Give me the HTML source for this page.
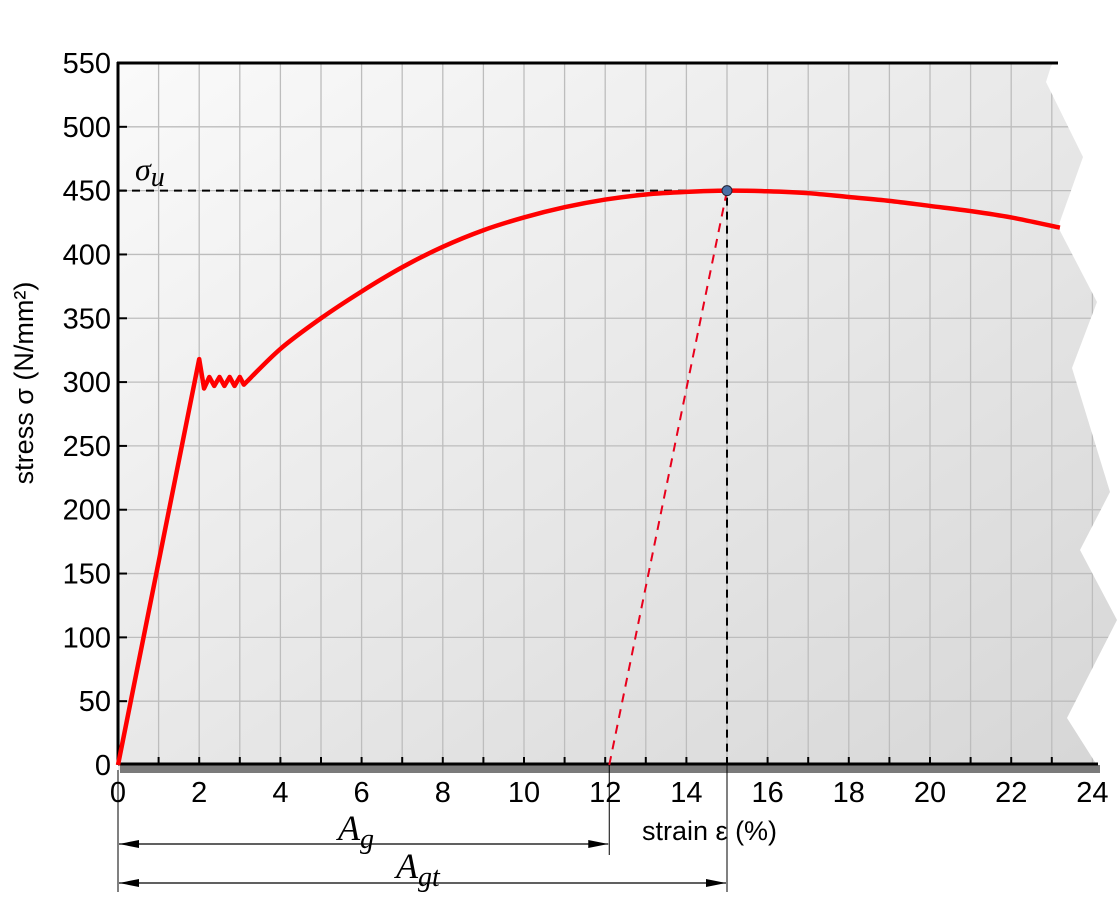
<!DOCTYPE html>
<html><head><meta charset="utf-8"><style>
html,body{margin:0;padding:0;background:#fff}
svg{display:block}
text{font-family:"Liberation Sans",sans-serif}
text.ser{font-family:"Liberation Serif",serif;font-style:italic}
</style></head><body>
<svg id="chart" width="1118" height="900">
<defs>
<linearGradient id="bg" x1="0" y1="0" x2="1" y2="1">
<stop offset="0" stop-color="#fafafa"/><stop offset="1" stop-color="#d6d6d6"/>
</linearGradient>
</defs>
<g id="plot"></g>
</svg>
<script>
const xTicks=[0,2,4,6,8,10,12,14,16,18,20,22,24];
const yTicks=[0,50,100,150,200,250,300,350,400,450,500,550];
const elasticStrain=[0,2,2.12,2.25,2.37,2.5,2.62,2.75,2.87,3.0,3.1];
const elasticStress=[0,318,295,304,297,304,297,304,297,304,298];
const hardStrain=[3.1,4,5,6,7,8,9,10,11,12,13,14,15,16,17,18,19,20,21,22,23.2];
const hardStress=[298,326,350,371,390,406,419,429,437,443,447,449,450,449.5,448,445,442,438,434,429,421];
const uts=[15,450];
const offsetStart=12.1;
const NS='http://www.w3.org/2000/svg';
const X=v=>118+v*40.6, Y=v=>765-v*702/550;
const g=document.getElementById('plot');
function el(t,a,p){const e=document.createElementNS(NS,t);for(const k in a)e.setAttribute(k,a[k]);(p||g).appendChild(e);return e;}
const bgp=el('path',{d:'M118,63 L1052,63 L1046,82 L1083,157 L1058,227 L1097,302 L1072,368 L1110,492 L1080,550 L1117,620 L1067,718 L1100,770 L118,770 Z',fill:'url(#bg)'});

const cp=el('clipPath',{id:'cp'});el('path',{d:bgp.getAttribute('d')},cp);
const grid=el('g',{'clip-path':'url(#cp)',stroke:'#bdbdbd','stroke-width':1.3});

for(let i=1;i<=24;i++)el('line',{x1:X(i),x2:X(i),y1:63,y2:765},grid);
yTicks.forEach(v=>{if(v>0)el('line',{x1:118,x2:1120,y1:Y(v),y2:Y(v)},grid);});
let a=el('rect',{x:120,y:765,width:980,height:8,fill:'#7a7a7a'});
a=el('line',{x1:118,x2:1098,y1:764,y2:764,stroke:'#000','stroke-width':3});
a=el('line',{x1:118,x2:118,y1:62,y2:765,stroke:'#000','stroke-width':3});
a=el('line',{x1:117,x2:1058,y1:63,y2:63,stroke:'#000','stroke-width':3});
for(let i=1;i<24;i++)el('line',{x1:X(i),x2:X(i),y1:757,y2:764,stroke:'#000','stroke-width':2});
xTicks.forEach(v=>{const t=el('text',{x:X(v),y:802,'font-size':29,'text-anchor':'middle'});t.textContent=v;
});
yTicks.forEach(v=>{if(v>0)el('line',{x1:118,x2:127,y1:Y(v),y2:Y(v),stroke:'#000','stroke-width':2});
const t=el('text',{x:111,y:Y(v)+10,'font-size':29,'text-anchor':'end'});t.textContent=v;
});
a=el('polyline',{points:`118,${Y(uts[1])} ${X(uts[0])},${Y(uts[1])} ${X(uts[0])},765`,fill:'none',stroke:'#000','stroke-width':2,'stroke-dasharray':'8,6'});

a=el('line',{x1:X(offsetStart),y1:Y(0),x2:X(uts[0]),y2:Y(uts[1]),stroke:'#e8001c','stroke-width':2,'stroke-dasharray':'9,7'});

const hp=hardStrain.map((s,i)=>[X(s),Y(hardStress[i])]);
let d='M'+elasticStrain.map((s,i)=>X(s)+','+Y(elasticStress[i])).join(' L');
for(let i=0;i<hp.length-1;i++){const p0=hp[Math.max(0,i-1)],p1=hp[i],p2=hp[i+1],p3=hp[Math.min(hp.length-1,i+2)];
d+=` C${p1[0]+(p2[0]-p0[0])/6},${p1[1]+(p2[1]-p0[1])/6} ${p2[0]-(p3[0]-p1[0])/6},${p2[1]-(p3[1]-p1[1])/6} ${p2[0]},${p2[1]}`;}
a=el('path',{d:d,fill:'none',stroke:'#ff0000','stroke-width':4.5,'stroke-linejoin':'round'});

a=el('circle',{cx:X(uts[0]),cy:Y(uts[1]),r:5,fill:'#4a6fa5',stroke:'#223','stroke-width':1});

a=el('text',{x:135,y:180,'font-size':32,class:'ser'});a.textContent='σ';
el('tspan',{'font-size':28,dy:6},a).textContent='u';
a=el('text',{x:33,y:383,'font-size':27,'text-anchor':'middle',transform:'rotate(-90 33 383)'});a.textContent='stress σ (N/mm²)';

a=el('text',{x:642,y:840,'font-size':27});a.textContent='strain ε (%)';
el('line',{x1:118,x2:118,y1:770,y2:892,stroke:'#000','stroke-width':1});
el('line',{x1:X(offsetStart),x2:X(offsetStart),y1:765,y2:855,stroke:'#000','stroke-width':1});
el('line',{x1:X(uts[0]),x2:X(uts[0]),y1:765,y2:892,stroke:'#000','stroke-width':1});
function dim(x1,x2,y,name){
const gg=el('g',{});
el('line',{x1:x1,x2:x2,y1:y,y2:y,stroke:'#000','stroke-width':1.2},gg);
el('path',{d:`M${x1},${y} L${x1+20},${y-4} L${x1+20},${y+4} Z`,fill:'#000'},gg);
el('path',{d:`M${x2},${y} L${x2-20},${y-4} L${x2-20},${y+4} Z`,fill:'#000'},gg);}
dim(119,X(offsetStart)-1,844,'ag-dimension');
dim(119,X(uts[0])-1,883,'agt-dimension');
a=el('text',{x:338,y:840,'font-size':36,class:'ser'});a.textContent='A';
el('tspan',{'font-size':28,dy:8},a).textContent='g';
a=el('text',{x:396,y:878,'font-size':36,class:'ser'});a.textContent='A';
el('tspan',{'font-size':28,dy:8},a).textContent='gt';
</script>
</body></html>
